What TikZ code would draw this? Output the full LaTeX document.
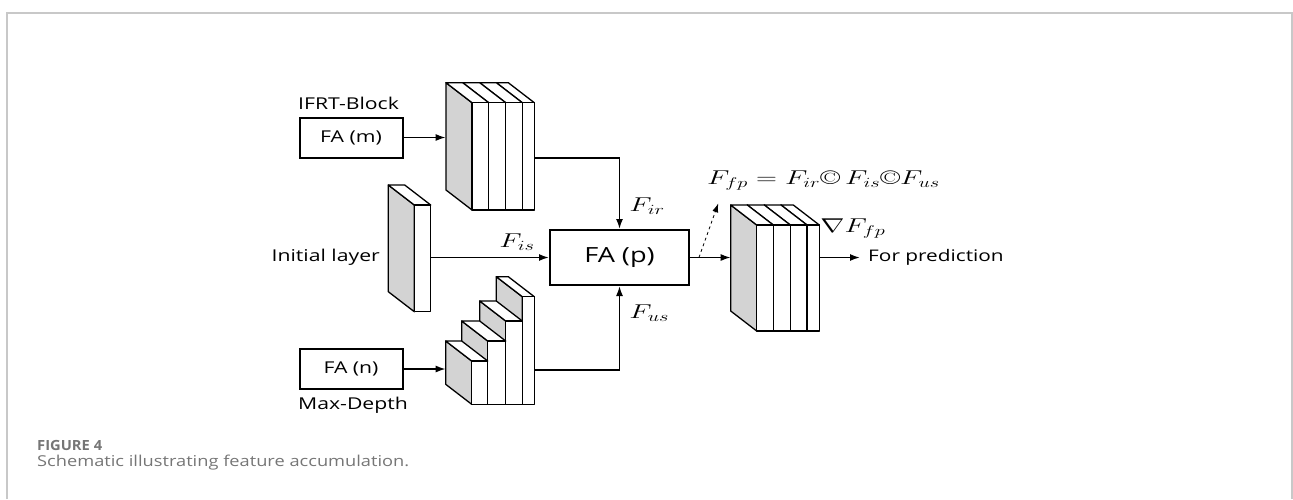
\RequirePackage{fix-cm}
\documentclass[tikz,border=0pt]{standalone}
\usepackage{fontspec}
\newfontfamily\widesans[FakeStretch=1.3]{Open Sans}
\usetikzlibrary{arrows.meta,calc}
\definecolor{slabGray}{RGB}{211,211,211}
\definecolor{frameGray}{RGB}{200,200,200}
\definecolor{captionInk}{RGB}{118,118,118}
\tikzset{
  fabox/.style={draw, line width=2pt, align=center, inner sep=0pt, minimum width=103pt, minimum height=40pt, font=\widesans\fontsize{16.3}{19}\selectfont},
  mainfa/.style={fabox, minimum width=139pt, minimum height=55pt, font=\widesans\fontsize{20.9}{24}\selectfont},
  tag/.style={font=\widesans\fontsize{16.3}{19}\selectfont, inner sep=0pt},
  predtag/.style={font=\widesans\fontsize{16}{19}\selectfont, inner sep=0pt, inner xsep=8pt},
  mathtag/.style={font=\fontsize{20}{24}\selectfont, inner sep=0pt, xscale=1.45},
  captag/.style={anchor=base west, inner sep=0pt, text=captionInk},
  flow/.style={-{Latex[length=10pt,width=7pt]}, line width=1.6pt},
  dashflow/.style={-{Latex[length=9pt,width=6pt]}, dashed, line width=0.8pt},
  slabface/.style={draw, line width=1.3pt, line join=round, fill=white},
  slabside/.style={slabface, fill=slabGray}
}
% one slab of a feature stack: left, right, top, bottom of its front face
\newcommand{\featslab}[4]{%
  \filldraw[slabside] (#1,#3) -- ++(-26,-20) -- (#1-26,#4-20) -- (#1,#4) -- cycle;
  \filldraw[slabface] (#1,#3) -- ++(-26,-20) -- (#2-26,#3-20) -- (#2,#3) -- cycle;
  \filldraw[slabface] (#1,#3) rectangle (#2,#4);
}
\begin{document}
\begin{tikzpicture}[x=1pt, y=-1pt]
  \useasboundingbox (0,0) rectangle (1293,499);
  \draw[frameGray, line width=1.3pt] (7,499) -- (7,13) -- (1292,13) -- (1292,499);

  % stacks
  \foreach \xa/\xb in {522.3/534.3, 505.7/522.3, 488.7/505.7, 472/488.7}
    {\featslab{\xa}{\xb}{102.7}{210}}
  \featslab{414.3}{430.7}{205}{311.7}
  \foreach \xa/\xb/\yt in {522.3/534.3/296.7, 505.7/522.3/321, 487.7/505.7/341, 471.7/487.7/361}
    {\featslab{\xa}{\xb}{\yt}{404.3}}
  \foreach \xa/\xb in {807/819.3, 790.3/807, 773.3/790.3, 756.7/773.3}
    {\featslab{\xa}{\xb}{225}{331}}

  \coordinate (irin) at (445.7,137.5);
  \coordinate (irout) at (534.3,157.7);
  \coordinate (isout) at (430.7,257.5);
  \coordinate (usin) at (445.7,369);
  \coordinate (usout) at (534.3,370);
  \coordinate (fpin) at (730.7,257.5);
  \coordinate (fpout) at (819.3,257.5);
  \coordinate (eqfoot) at (718.3,203.3);

  % blocks and labels
  \node[tag, anchor=base west] (ifrt) at (298,109.3) {IFRT-Block};
  \node[fabox] (fam) at (351,137.5) {FA (m)};
  \node[tag, anchor=base east] (initl) at (380,261.7) {Initial layer};
  \node[fabox] (fan) at (351,369) {FA (n)};
  \node[tag, anchor=base west] (maxd) at (298,409.3) {Max-Depth};
  \node[mainfa] (fap) at (619.5,257.5) {FA (p)};
  \node[mathtag] (fpeq) at (823.5,181) {$F_{fp} = F_{ir}\mbox{\copyright}\, F_{is}\mbox{\copyright}F_{us}$};
  \node[mathtag] (gradfp) at (853,229) {$\nabla F_{fp}$};
  \node[predtag, anchor=west] (pred) at (860,257.5) {For prediction};

  % connectors
  \draw[flow] (fam) -- (irin);
  \draw[flow] (fan) -- (usin);
  \draw[flow] (irout) -| node[mathtag, pos=0.84, right=6pt] (firlbl) {$F_{ir}$} (fap);
  \draw[flow] (usout) -| node[mathtag, pos=0.84, right=6pt] (fuslbl) {$F_{us}$} (fap);
  \draw[flow] (isout) -- node[mathtag, pos=0.73, above=6pt] (fislbl) {$F_{is}$} (fap);
  \draw[flow] (fap) -- coordinate[pos=0.22] (tap) (fpin);
  \draw[dashflow] (tap) -- (eqfoot);
  \draw[flow] (fpout) -- (fpout -| pred.west);

  % caption
  \node[captag, font=\sffamily\bfseries\fontsize{14}{16}\selectfont] (figno) at (37,450)
    {\resizebox{65pt}{\height}{\widesans\bfseries FIGURE 4}};
  \node[captag, font=\fontsize{15}{18}\selectfont] (figcap) at (37,466.7)
    {\resizebox{372pt}{\height}{\widesans Schematic illustrating feature accumulation.}};
\end{tikzpicture}
\end{document}
